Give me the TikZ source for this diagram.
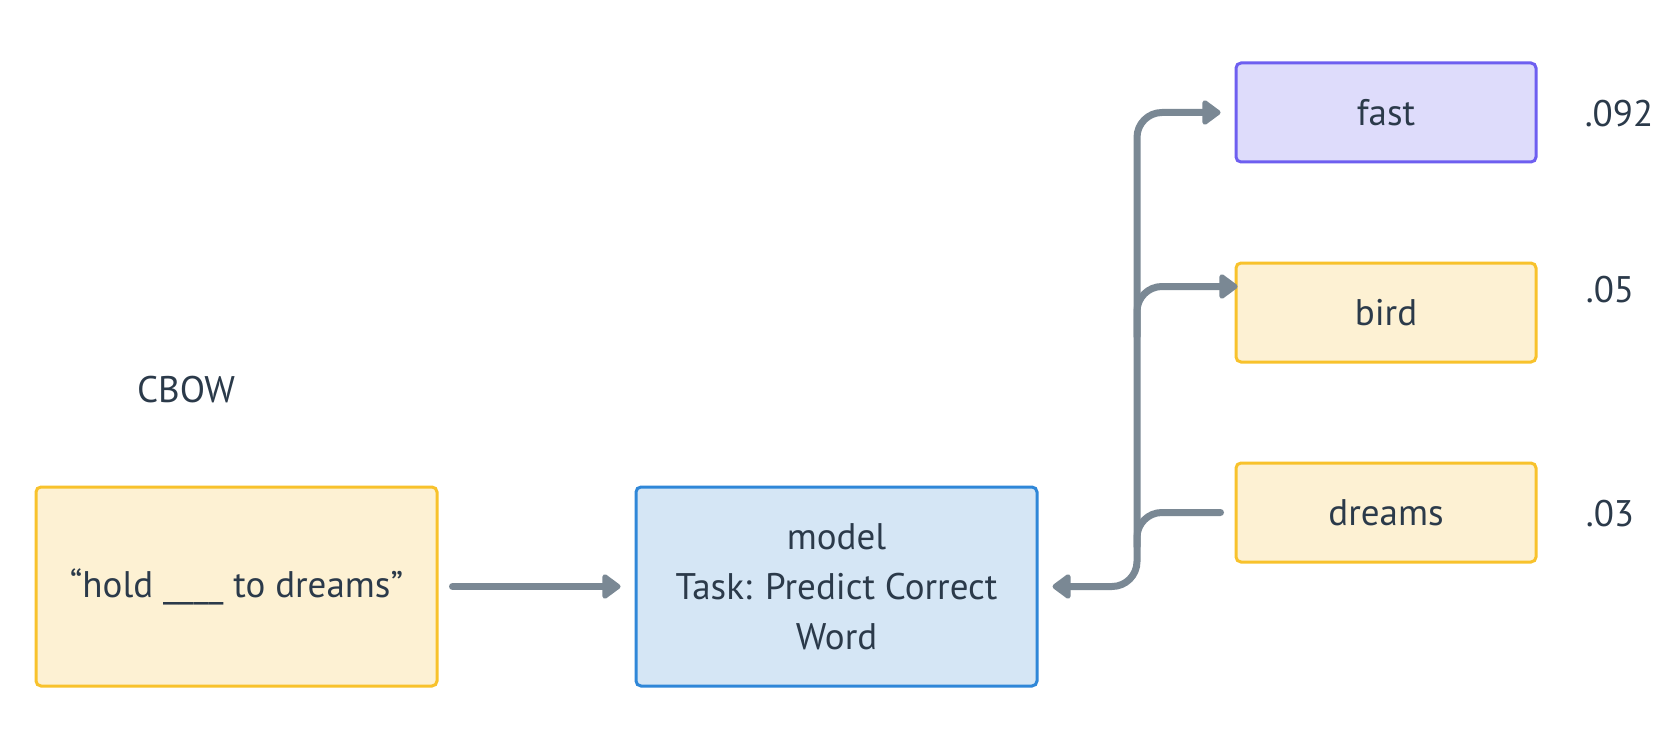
\documentclass[tikz,border=0pt]{standalone}
\usepackage{fontspec}
\setmainfont{PT Sans}
\usetikzlibrary{arrows.meta,calc}
\definecolor{txt}{HTML}{2B3A4A}
\definecolor{conncol}{HTML}{7A8894}
\definecolor{ylwline}{HTML}{F8C22C}
\definecolor{ylwfill}{HTML}{FDF1D3}
\definecolor{bluline}{HTML}{2F87D8}
\definecolor{blufill}{HTML}{D5E6F5}
\definecolor{purline}{HTML}{6E5FF0}
\definecolor{purfill}{HTML}{DEDCFB}
\tikzset{
  box/.style={draw, line width=1.5pt, rounded corners=2.5pt, align=center,
    text=txt, font=\fontsize{18.5}{25}\selectfont, inner sep=0pt},
  bigbox/.style={box, minimum width=200.5pt, minimum height=99.5pt},
  smallbox/.style={box, minimum width=150pt, minimum height=49.5pt},
  yellowbox/.style={draw=ylwline, fill=ylwfill},
  bluebox/.style={draw=bluline, fill=blufill},
  purplebox/.style={draw=purline, fill=purfill},
  plain/.style={text=txt, font=\fontsize{18.5}{25}\selectfont, inner sep=0pt},
  conn/.style={draw=conncol, line width=3.5pt, line cap=round, line join=round,
    rounded corners=12.5pt},
  tip/.tip={Triangle[length=10pt,width=14pt,round]}
}
\begin{document}
\begin{tikzpicture}[x=0.5pt,y=-0.5pt]
\useasboundingbox[fill=white] (0,0) rectangle (1676,738);
\node[bigbox,yellowbox] (hold) at (236.5,586.5) {“hold \_\_\_\_ to dreams”};
\node[bigbox,bluebox] (model) at (836.5,586.5) {model\\Task: Predict Correct\\Word};
\node[smallbox,purplebox] (fast) at (1386,112.5) {fast};
\node[smallbox,yellowbox] (bird) at (1386,312.5) {bird};
\node[smallbox,yellowbox] (dreams) at (1386,512.5) {dreams};
\node[plain] (cbow) at (186,390) {CBOW};
\node[plain] (pfast) at (1619,114) {.092};
\node[plain] (pbird) at (1610,290) {.05};
\node[plain] (pdreams) at (1610,514) {.03};
\coordinate (tb) at (1137,586.5);
\coordinate (birdin) at ($(bird.west)+(3,-26)$);
\draw[conn,-tip,shorten <=7pt,shorten >=7pt] (hold.east) -- (model.west);
\draw[conn,-tip,shorten <=7pt,shorten >=7pt] (dreams.west) -| (tb) -- (model.east);
\draw[conn,-tip,shorten >=7pt] (tb) ++(0,-40) |- (fast.west);
\draw[conn,-tip] (tb) ++(0,-250) |- (birdin);
\end{tikzpicture}
\end{document}
